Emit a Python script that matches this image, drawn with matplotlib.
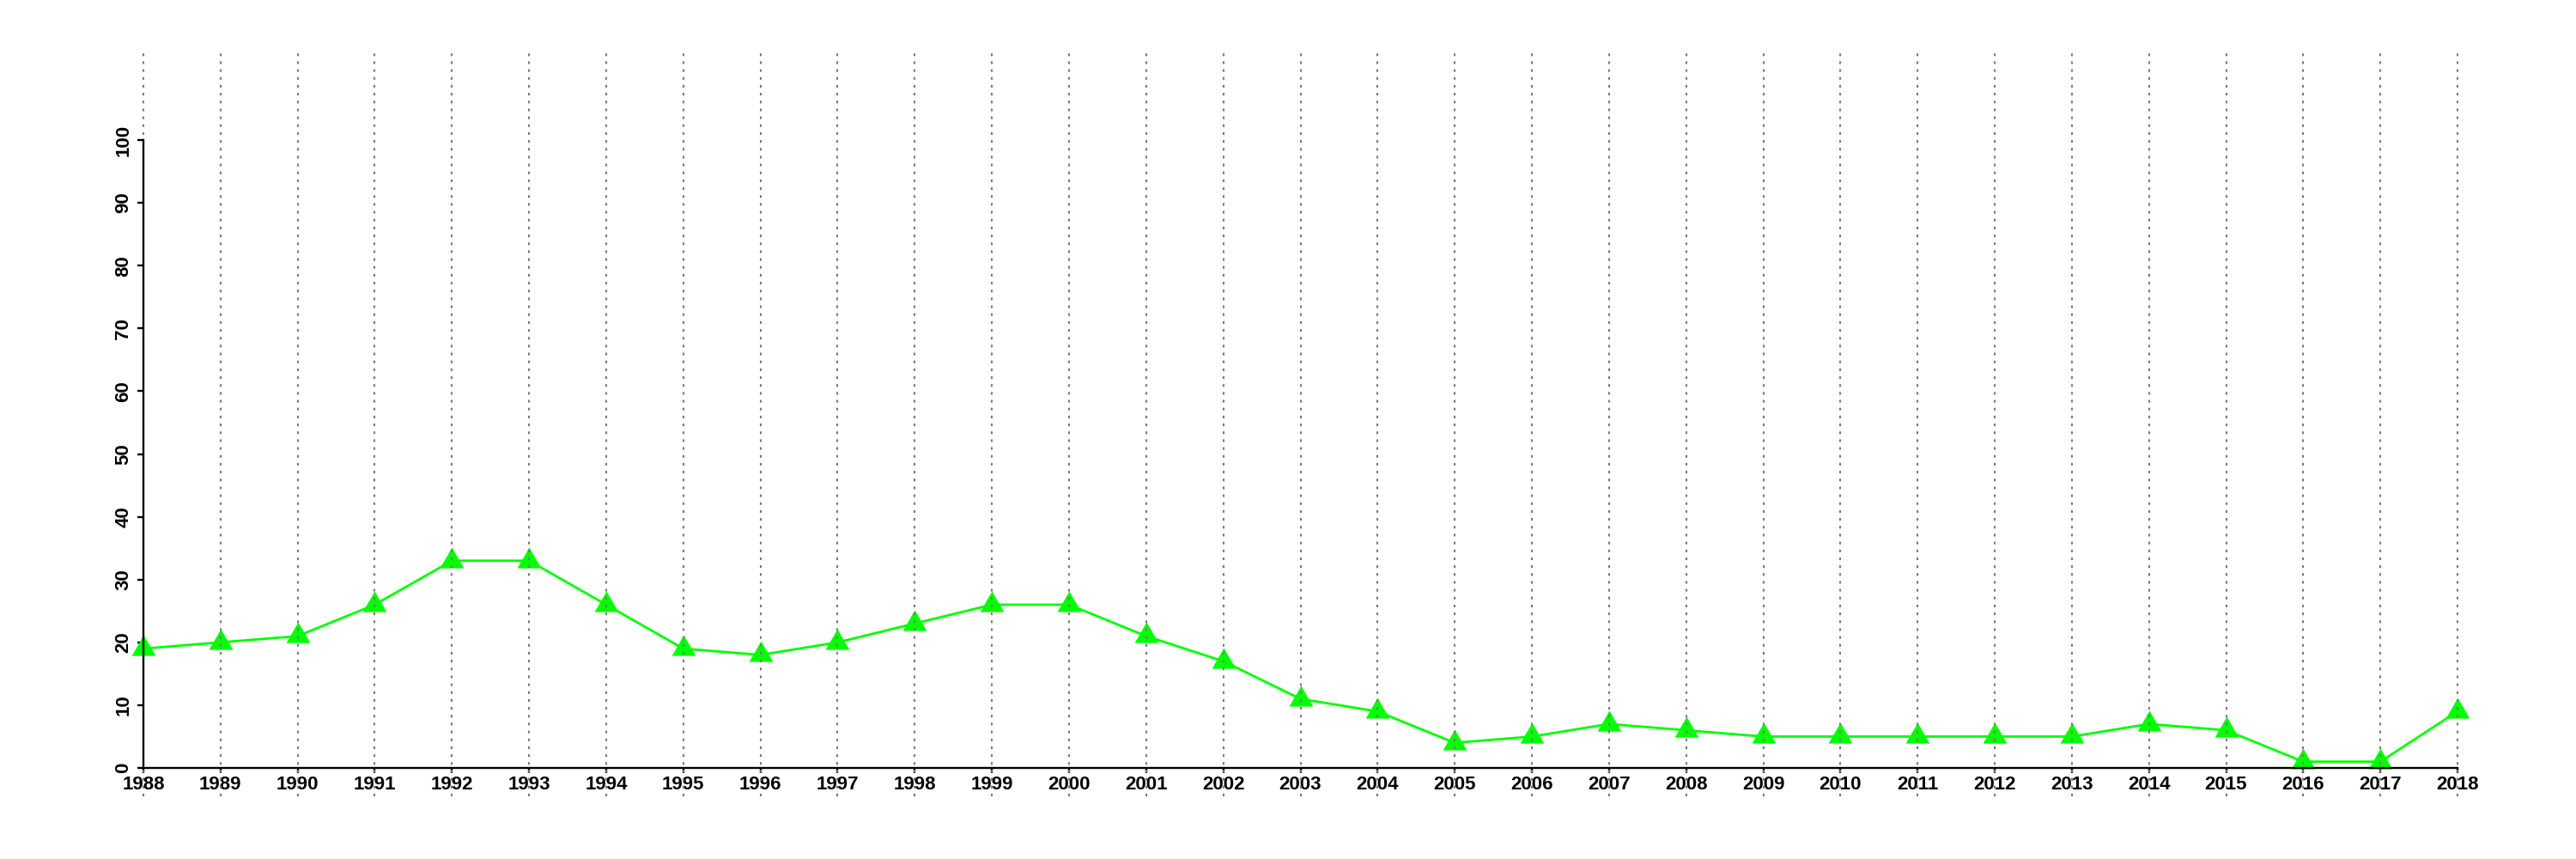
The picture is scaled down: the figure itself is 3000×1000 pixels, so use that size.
import matplotlib
matplotlib.use("Agg")
import matplotlib.pyplot as plt
import numpy as np

years = list(range(1988, 2019))
values = [19, 20, 21, 26, 33, 33, 26, 19, 18, 20, 23, 26, 26, 21, 17, 11, 9, 4, 5, 7, 6, 5, 5, 5, 5, 5, 7, 6, 1, 1, 9]
yticks = [0, 10, 20, 30, 40, 50, 60, 70, 80, 90, 100]

plt.rcParams['font.family'] = ['Liberation Sans', 'DejaVu Sans']
plt.rcParams['font.weight'] = 'bold'

W, H = 3000, 1000
fig = plt.figure(figsize=(30, 10), dpi=100)

# pixel geometry
x0px, x1px = 167, 2862      # 1988, 2018
y0px, y100px = 894, 163     # 0, 100 (from top)
top_px, bot_px = 60, 927
ax_left_px, ax_right_px = 100, 2950

xs = (x1px - x0px) / 30.0
xlim = (1988 - (x0px - ax_left_px) / xs, 2018 + (ax_right_px - x1px) / xs)
ys = (y0px - y100px) / 100.0
ylim = (0 - (bot_px - y0px) / ys, 100 + (y100px - top_px) / ys)

ax = fig.add_axes([ax_left_px / W, 1 - bot_px / H, (ax_right_px - ax_left_px) / W, (bot_px - top_px) / H])
ax.set_xlim(*xlim)
ax.set_ylim(*ylim)
ax.patch.set_alpha(0)

# custom equilateral triangle marker centered at centroid
tri = [(0, 1.0), (-0.866, -0.5), (0.866, -0.5), (0, 1.0)]
ax.plot(years, values, color='#00ff00', linewidth=2.0, marker=tri, markersize=22,
        markerfacecolor='#00ff00', markeredgecolor='#00ff00', markeredgewidth=0.5,
        zorder=3, clip_on=False)

# vertical dotted gridlines spanning full height (drawn over the data)
ax.vlines(years, ylim[0], ylim[1], colors='#7a7a7a', linestyles=(0, (1.5, 2.9)), linewidth=1.5, zorder=4)

for s in ['top', 'right']:
    ax.spines[s].set_visible(False)
ax.spines['left'].set_position(('data', 1988))
ax.spines['bottom'].set_position(('data', 0))
ax.spines['left'].set_bounds(0, 100)
ax.spines['bottom'].set_bounds(1988, 2018)
for s in ['left', 'bottom']:
    ax.spines[s].set_linewidth(1.7)
    ax.spines[s].set_zorder(5)

ax.set_xticks(years)
ax.set_xticklabels([str(y) for y in years])
ax.set_yticks(yticks)
ax.set_yticklabels([str(v) for v in yticks], rotation=90, va='center')
ax.tick_params(axis='x', length=4.5, width=1.7, pad=2, labelsize=16)
ax.tick_params(axis='y', length=5, width=1.7, pad=4, labelsize=16)
for lab in ax.get_xticklabels() + ax.get_yticklabels():
    lab.set_fontweight('bold')

fig.savefig('out.png', dpi=100)
